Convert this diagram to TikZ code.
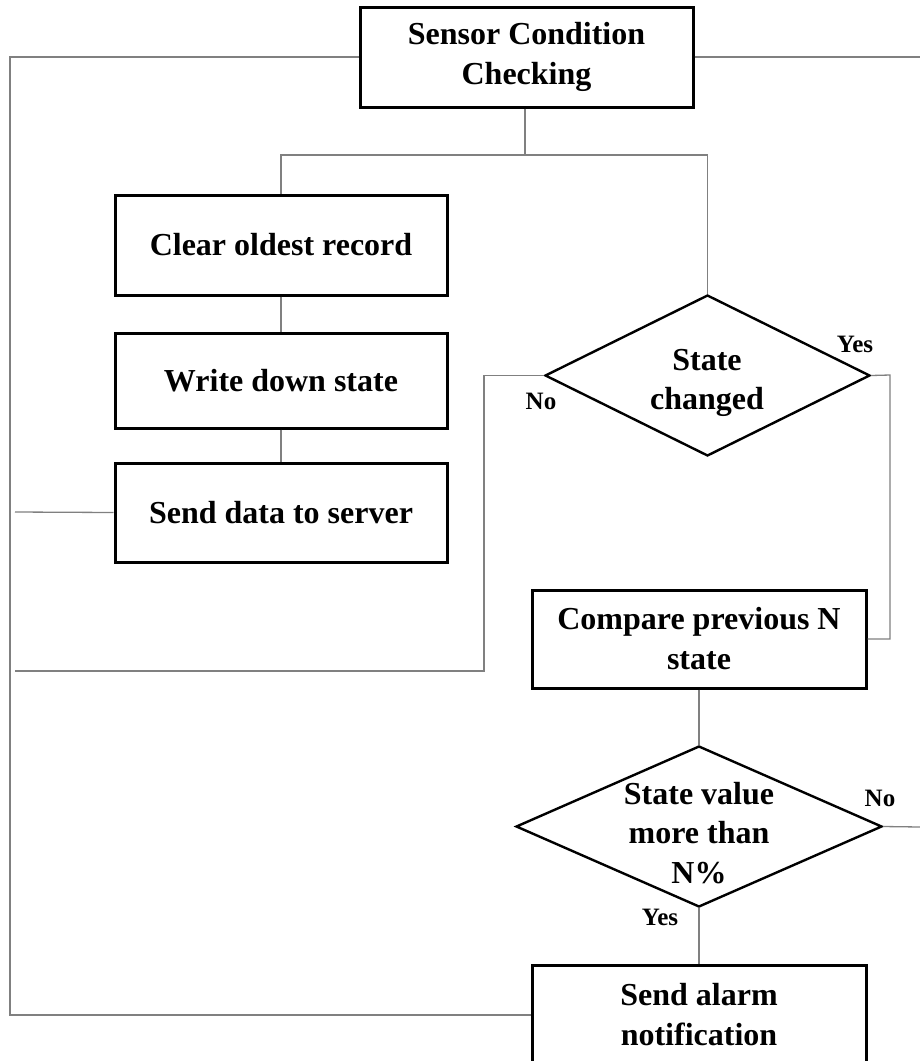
\documentclass[tikz,border=0pt]{standalone}
\usepackage{fontspec}
\setmainfont{Liberation Serif}
\usetikzlibrary{shapes.geometric}
\tikzset{
  box/.style={draw=black, line width=3pt, fill=white, inner sep=0pt, align=center, font=\fontsize{32}{40}\selectfont\bfseries},
  dia/.style={draw=black, line width=2.4pt, diamond, inner sep=0pt},
  dtext/.style={align=center, font=\fontsize{32}{39.5}\selectfont\bfseries},
  conn/.style={draw={rgb,255:red,128;green,128;blue,128}, line width=1.3pt},
  lab/.style={font=\fontsize{25}{27}\selectfont\bfseries, anchor=base}
}
\begin{document}
\begin{tikzpicture}[x=1pt,y=-1pt]
\useasboundingbox (0,0) rectangle (920,1061);
\clip (0,0) rectangle (920,1061);
\fill[white] (0,0) rectangle (920,1061);
% coordinates
\coordinate (L1) at (10,57);
\coordinate (R1) at (920,57);
\coordinate (J) at (525,155);
\coordinate (S0) at (15,512);
\coordinate (N1) at (484,671);
\coordinate (S1) at (15,671);
\coordinate (Y1) at (890,375);
\coordinate (R2) at (920,827);
% nodes
\node[box, minimum width=333pt, minimum height=100pt] (top) at (526.5,57) {Sensor Condition\\Checking};
\node[box, minimum width=332pt, minimum height=100pt] (clear) at (281,245) {Clear oldest record};
\node[box, minimum width=332pt, minimum height=95pt] (write) at (281,380.5) {Write down state};
\node[box, minimum width=332pt, minimum height=99pt] (send) at (281,512.5) {Send data to server};
\node[dia, minimum width=325pt, minimum height=161pt] (d1) at (707.5,375.5) {};
\node[box, minimum width=334pt, minimum height=98pt] (cmp) at (699,639) {Compare previous N\\state};
\node[dia, minimum width=366pt, minimum height=161pt] (d2) at (699,826.5) {};
\node[box, minimum width=334pt, minimum height=100pt] (alarm) at (699,1015) {Send alarm\\notification};
\node[dtext] (t1) at (707,383) {State\\changed};
\node[dtext] (t2) at (699,833) {State value\\more than\\N\%};
% connectors
\draw[conn] (top.west) -- (L1) |- (alarm.west);
\draw[conn] (top.east) -- (R1);
\draw[conn] (top.south -| J) -- (J);
\draw[conn] (clear.north) |- (J) -| (d1.north);
\draw[conn] (clear.south) -- (write.north);
\draw[conn] (write.south) -- (send.north);
\draw[conn] (send.west) -- (S0);
\draw[conn] (d1.west) -| (N1) -- (S1);
\draw[conn] (d1.east) -- (Y1) |- (cmp.east);
\draw[conn] (cmp.south) -- (d2.north);
\draw[conn] (d2.east) -- (R2);
\draw[conn] (d2.south) -- (alarm.north);
% labels
\node[lab] (ly1) at (855,352) {Yes};
\node[lab] (ln1) at (541,409) {No};
\node[lab] (ln2) at (880,806) {No};
\node[lab] (ly2) at (660,925) {Yes};
\end{tikzpicture}
\end{document}
